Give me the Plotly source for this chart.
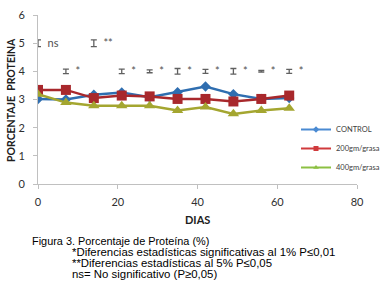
import plotly.graph_objects as go

dias = [0, 7, 14, 21, 28, 35, 42, 49, 56, 63]
control = [3.02, 3.0, 3.17, 3.25, 3.08, 3.26, 3.46, 3.19, 3.02, 3.05]
g200 = [3.34, 3.34, 3.05, 3.14, 3.11, 3.02, 3.02, 2.93, 3.02, 3.14]
g400 = [3.19, 2.89, 2.78, 2.78, 2.78, 2.61, 2.73, 2.49, 2.61, 2.69]

sig_x = [0, 7, 14, 21, 28, 35, 42, 49, 56, 63]
sig_y = [5, 4, 5, 4, 4, 4, 4, 4, 4, 4]
sig_err = [0.12, 0.08, 0.12, 0.08, 0.05, 0.1, 0.07, 0.1, 0.03, 0.07]
sig_labels = ["ns", "*", "**", "*", "*", "*", "*", "*", "*", "*"]

names = ["CONTROL", "200gm/grasa", "400gm/grasa"]
colors = ["#2f6eb0", "#a8282c", "#a4a630"]
legend_colors = ["#4a8ad2", "#d03a3c", "#8cc043"]
symbols = ["diamond", "square", "triangle-up"]
sizes = [8, 10, 10]

caption = [
    "Figura 3. Porcentaje de Proteína (%)",
    "*Diferencias estadísticas significativas al 1% P≤0,01",
    "**Diferencias estadísticas al 5% P≤0,05",
    "ns= No significativo (P≥0,05)",
]

W, H = 390, 288
L, T = 38, 15
R = W - 357
B = H - 184
pw = W - L - R
ph = H - T - B

def px_x(p):
    return (p - L) / pw

def px_y(p):
    return (H - B - p) / ph

fig = go.Figure()
for ys, n, c, s, sz in zip([control, g200, g400], names, colors, symbols, sizes):
    fig.add_trace(go.Scatter(
        x=dias, y=ys, name=n, mode="lines+markers", showlegend=False,
        line=dict(color=c, width=2.5),
        marker=dict(color=c, symbol=s, size=sz),
    ))
for n, c, s in zip(names, legend_colors, symbols):
    fig.add_trace(go.Scatter(
        x=[None], y=[None], name=n, mode="lines+markers",
        line=dict(color=c, width=2),
        marker=dict(color=c, symbol=s, size=5),
    ))

fig.add_trace(go.Scatter(
    x=sig_x, y=sig_y, mode="markers", showlegend=False,
    marker=dict(size=1, color="rgba(0,0,0,0)"),
    error_y=dict(type="data", array=sig_err, visible=True,
                 color="#606060", thickness=1.3, width=3),
    hoverinfo="skip",
))
fig.add_trace(go.Scatter(
    x=[v + 2.4 for v in sig_x], y=[v - 0.05 for v in sig_y], mode="text",
    text=sig_labels, textposition="middle right", showlegend=False,
    textfont=dict(family="Lato, sans-serif", size=11, color="#505050"),
    hoverinfo="skip",
))

annotations = [
    dict(xref="paper", yref="paper", x=px_x(11), y=px_y(100), xanchor="center", yanchor="middle",
         text="<b>PORCENTAJE  PROTEINA</b>", textangle=-90, showarrow=False,
         font=dict(family="Lato, sans-serif", size=10.5, color="#202020")),
    dict(xref="paper", yref="paper", x=px_x(197), y=px_y(219), xanchor="center", yanchor="middle",
         text="<b>DIAS</b>", showarrow=False,
         font=dict(family="Lato, sans-serif", size=11, color="#202020")),
]
cap_x = [30, 70, 70, 70]
cap_y = [241, 252, 263, 274]
cap_size = [10.9, 11.4, 11.4, 11.4]
for t, cx, cy, cs in zip(caption, cap_x, cap_y, cap_size):
    annotations.append(dict(
        xref="paper", yref="paper", x=px_x(cx), y=px_y(cy), xanchor="left", yanchor="middle",
        text=t, showarrow=False, align="left",
        font=dict(family="Liberation Sans, Arial, sans-serif", size=cs, color="#000000")))

fig.update_layout(
    width=W, height=H,
    margin=dict(l=L, r=R, t=T, b=B, autoexpand=False),
    plot_bgcolor="white", paper_bgcolor="white",
    showlegend=True,
    legend=dict(x=px_x(296), y=px_y(115), xanchor="left", yanchor="top",
                font=dict(family="Lato, sans-serif", size=7.5, color="#404040"),
                bgcolor="rgba(0,0,0,0)", itemwidth=30, tracegroupgap=0),
    xaxis=dict(range=[0, 80], tickvals=[0, 20, 40, 60, 80], showgrid=False,
               zeroline=False, showline=True, linecolor="#c0c0c0", linewidth=1,
               ticks="outside", ticklen=4, tickcolor="#c0c0c0", automargin=False,
               ticklabelstandoff=4,
               tickfont=dict(family="Lato, sans-serif", size=11, color="#303030")),
    yaxis=dict(range=[0, 6], tickvals=[0, 1, 2, 3, 4, 5, 6], showgrid=False,
               zeroline=False, showline=True, linecolor="#c0c0c0", linewidth=1,
               ticks="outside", ticklen=4, tickcolor="#c0c0c0", automargin=False,
               ticklabelstandoff=6,
               tickfont=dict(family="Lato, sans-serif", size=11, color="#303030")),
    annotations=annotations,
)

fig.write_html("out.html",
               config={"displayModeBar": False},
               post_script="document.body.style.margin='0';document.body.style.overflow='hidden';")
